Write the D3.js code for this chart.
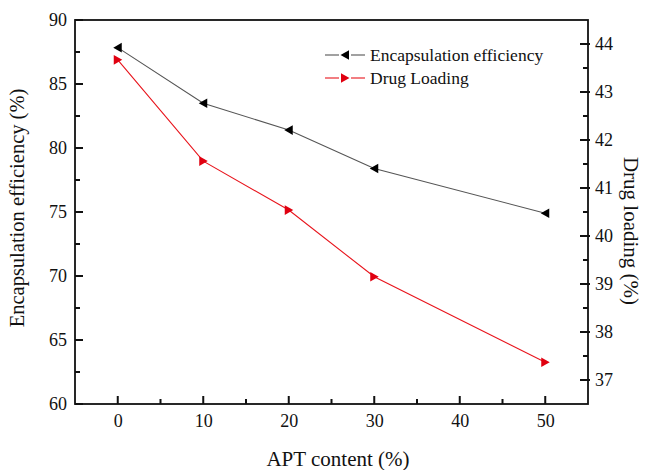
<!DOCTYPE html>
<html>
<head>
<meta charset="utf-8">
<script src="https://cdn.jsdelivr.net/npm/d3@7"></script>
<style>
  body { margin: 0; background: #fff; }
  svg text { font-family: "Liberation Serif", "Times New Roman", serif; fill: #111; }
</style>
</head>
<body>
<div id="chartContainer"></div>
<script>
// Data
const aptContent = [0, 10, 20, 30, 50];
const encapsulation = [87.84, 83.5, 81.4, 78.4, 74.9];
const drugLoading = [43.67, 41.56, 40.54, 39.15, 37.37];
const xTicks = [0, 10, 20, 30, 40, 50];
const leftTicks = [60, 65, 70, 75, 80, 85, 90];
const rightTicks = [37, 38, 39, 40, 41, 42, 43, 44];

const W = 652, H = 470;
const margin = { top: 20, right: 64, bottom: 66, left: 75 };
const width = W - margin.left - margin.right;
const height = H - margin.top - margin.bottom;

const svg = d3.select("#chartContainer")
    .append("svg")
    .attr("width", W)
    .attr("height", H);

const g = svg.append("g")
    .attr("transform", "translate(" + margin.left + "," + margin.top + ")");

// Scales
const xScale = d3.scaleLinear().domain([-5, 55]).range([0, width]);
const yLeft = d3.scaleLinear().domain([60, 90]).range([height, 0]);
const yRight = d3.scaleLinear().domain([36.5, 44.5]).range([height, 0]);

// Minor tick positions
const xMinor = [5, 15, 25, 35, 45];
const leftMinor = [62.5, 67.5, 72.5, 77.5, 82.5, 87.5];
const rightMinor = [37.5, 38.5, 39.5, 40.5, 41.5, 42.5, 43.5];

// Axis labels via d3 axes (tick lines drawn separately)
function styleAxis(sel) {
    sel.select(".domain").remove();
    sel.selectAll(".tick line").remove();
    sel.selectAll(".tick text").style("font-size", "18px");
}

g.append("g")
    .attr("transform", "translate(0," + height + ")")
    .call(d3.axisBottom(xScale).tickValues(xTicks).tickSize(0).tickPadding(10).tickFormat(d3.format("d")))
    .call(styleAxis);

g.append("g")
    .call(d3.axisLeft(yLeft).tickValues(leftTicks).tickSize(0).tickPadding(8).tickFormat(d3.format("d")))
    .call(styleAxis);

g.append("g")
    .attr("transform", "translate(" + width + ",0)")
    .call(d3.axisRight(yRight).tickValues(rightTicks).tickSize(0).tickPadding(7).tickFormat(d3.format("d")))
    .call(styleAxis);

// Frame
g.append("rect")
    .attr("width", width)
    .attr("height", height)
    .attr("fill", "none")
    .attr("stroke", "#111")
    .attr("stroke-width", 1.8);

// Tick marks (inward), drawn as small filled rects
const tickG = g.append("g").attr("fill", "#111");
function xTickMarks(vals, len) {
    vals.forEach(function(v) {
        tickG.append("rect")
            .attr("x", xScale(v) - 1).attr("y", height - len)
            .attr("width", 2).attr("height", len);
    });
}
function yTickMarks(vals, scale, x0, dir, len) {
    vals.forEach(function(v) {
        tickG.append("rect")
            .attr("x", dir > 0 ? x0 : x0 - len).attr("y", scale(v) - 1)
            .attr("width", len).attr("height", 2);
    });
}
xTickMarks(xTicks, 8);
xTickMarks(xMinor, 5);
yTickMarks(leftTicks, yLeft, 0, 1, 8);
yTickMarks(leftMinor, yLeft, 0, 1, 5);
yTickMarks(rightTicks, yRight, width + 2, -1, 10);
yTickMarks(rightMinor, yRight, width, -1, 5);

// Lines
const encData = aptContent.map((x, i) => ({ x: x, y: encapsulation[i] }));
const drugData = aptContent.map((x, i) => ({ x: x, y: drugLoading[i] }));

g.append("path")
    .datum(encData)
    .attr("fill", "none")
    .attr("stroke", "#555")
    .attr("stroke-width", 1.1)
    .attr("d", d3.line().x(d => xScale(d.x)).y(d => yLeft(d.y)));

g.append("path")
    .datum(drugData)
    .attr("fill", "none")
    .attr("stroke", "#e8141c")
    .attr("stroke-width", 1.1)
    .attr("d", d3.line().x(d => xScale(d.x)).y(d => yRight(d.y)));

// Triangle markers
const leftTri = "M-4.5,0L4,-4.8L4,4.8Z";
const rightTri = "M4.5,0L-4,-4.8L-4,4.8Z";

g.selectAll(".enc")
    .data(encData)
    .enter()
    .append("path")
    .attr("class", "enc")
    .attr("d", leftTri)
    .attr("fill", "#000")
    .attr("transform", d => "translate(" + xScale(d.x) + "," + yLeft(d.y) + ")");

g.selectAll(".drug")
    .data(drugData)
    .enter()
    .append("path")
    .attr("class", "drug")
    .attr("d", rightTri)
    .attr("fill", "#e00010")
    .attr("transform", d => "translate(" + xScale(d.x) + "," + yRight(d.y) + ")");

// Legend
const legend = [
    { label: "Encapsulation efficiency", line: "#555", fill: "#000", tri: leftTri },
    { label: "Drug Loading", line: "#e8141c", fill: "#e00010", tri: rightTri }
];
const lg = svg.append("g").attr("transform", "translate(325,55)");
legend.forEach(function(d, i) {
    const row = lg.append("g").attr("transform", "translate(0," + (i * 23) + ")");
    row.append("line").attr("x1", 0).attr("x2", 14).attr("stroke", d.line).attr("stroke-width", 1.1);
    row.append("line").attr("x1", 26).attr("x2", 40).attr("stroke", d.line).attr("stroke-width", 1.1);
    row.append("path").attr("d", d.tri).attr("fill", d.fill).attr("transform", "translate(20,0)");
    row.append("text").attr("x", 45).attr("y", 6).style("font-size", "17.5px").text(d.label);
});

// Axis titles
svg.append("text")
    .attr("x", 338)
    .attr("y", 466)
    .attr("text-anchor", "middle")
    .style("font-size", "21px")
    .text("APT content (%)");

svg.append("text")
    .attr("transform", "translate(24," + (margin.top + height / 2 - 4) + ") rotate(-90)")
    .attr("text-anchor", "middle")
    .style("font-size", "20.5px")
    .text("Encapsulation efficiency (%)");

svg.append("text")
    .attr("transform", "translate(624,231) rotate(90)")
    .attr("text-anchor", "middle")
    .style("font-size", "21px")
    .text("Drug loading (%)");
</script>
</body>
</html>
